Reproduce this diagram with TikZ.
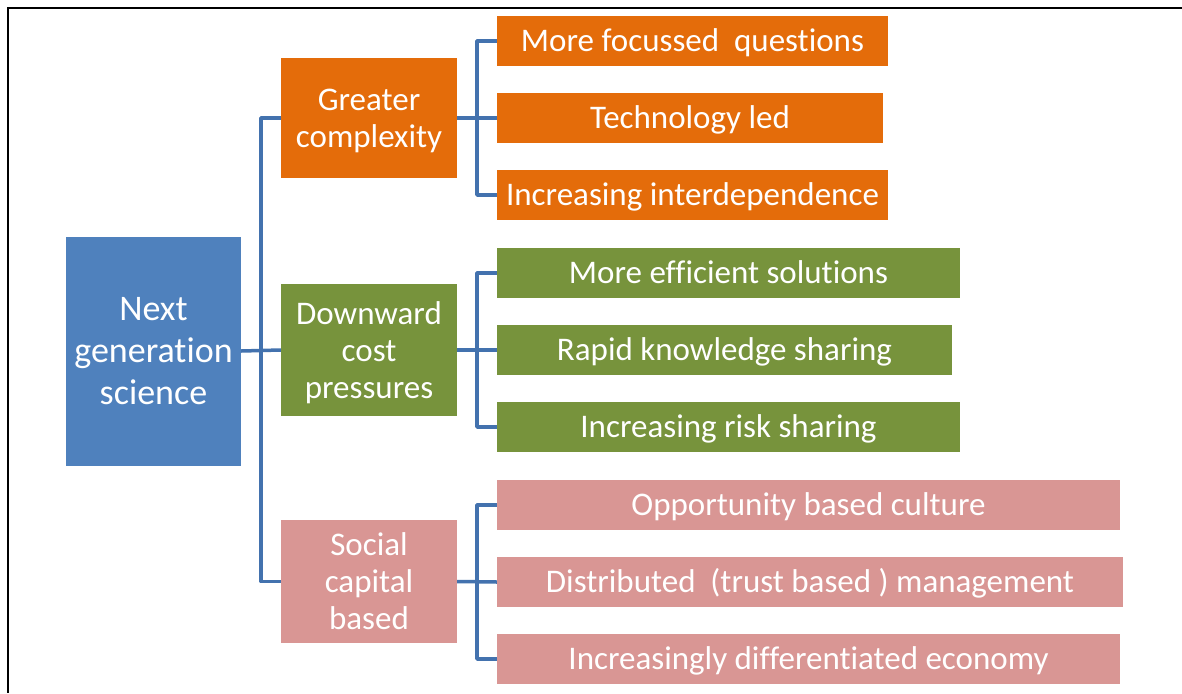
\documentclass[tikz,border=0pt]{standalone}
\usepackage{fontspec}
\setmainfont[Ligatures=NoCommon]{Carlito}
\definecolor{rootblue}{HTML}{4F81BD}
\definecolor{orng}{HTML}{E46C0A}
\definecolor{grn}{HTML}{77933C}
\definecolor{pnk}{HTML}{D99694}
\definecolor{lineblue}{HTML}{4372AE}
\newcommand{\mlines}[2]{\raisebox{#1}[0pt][0pt]{\def\arraystretch{1}\begin{tabular}{@{}c@{}}#2\end{tabular}}}
\begin{document}
\begin{tikzpicture}[x=1pt,y=-1pt,
  box/.style={rectangle, inner sep=0pt, text=white, align=center},
  rootbox/.style={box, fill=rootblue, font=\fontsize{36}{42}\selectfont},
  midbox/.style={box, font=\fontsize{33}{37}\selectfont, minimum width=176pt, minimum height=#1},
  leafbox/.style={box, font=\fontsize{33}{38}\selectfont, minimum height=50pt, minimum width=#1, text height=22pt, text depth=1pt},
  conn/.style={draw=lineblue, line width=3.5pt, line join=round}]
\useasboundingbox (0,0) rectangle (1182,693);
\fill[white] (0,0) rectangle (1182,693);
\draw[line width=2.5pt] (1182,8) -- (8,8) -- (8,693);

\node[rootbox, minimum width=175pt, minimum height=229pt] (root) at (153.5,351) {Next\\generation\\science};

\node[midbox=120pt, fill=orng] (g1) at (369,118) {\mlines{-10pt}{Greater\\complexity}};
\node[midbox=132pt, fill=grn] (g2) at (369,350) {\mlines{-10pt}{Downward\\cost\\pressures}};
\node[midbox=123pt, fill=pnk] (g3) at (369,581.5) {\mlines{-10pt}{Social\\capital\\based}};

\node[leafbox=391pt, fill=orng] (a1) at (692.5,41) {More focussed\ \ questions};
\node[leafbox=386pt, fill=orng] (a2) at (690,118) {Technology led};
\node[leafbox=391pt, fill=orng] (a3) at (692.5,195) {Increasing interdependence};

\node[leafbox=463pt, fill=grn] (b1) at (728.5,273) {More efficient solutions};
\node[leafbox=455pt, fill=grn] (b2) at (724.5,350) {Rapid knowledge sharing};
\node[leafbox=463pt, fill=grn] (b3) at (728.5,427) {Increasing risk sharing};

\node[leafbox=623pt, fill=pnk] (c1) at (808.5,505) {Opportunity based culture};
\node[leafbox=626pt, fill=pnk] (c2) at (810,582) {Distributed\ \ (trust based ) management};
\node[leafbox=623pt, fill=pnk] (c3) at (808.5,659) {Increasingly differentiated economy};

\coordinate (b0) at (261,350);
\coordinate (ba) at (477,118);
\coordinate (bb) at (477,350);
\coordinate (bc) at (477,582);

\draw[conn] (g1.west) -| (b0) |- (g3.west);
\draw[conn] (root.east) -- (g2.west);

\draw[conn] (a1.west) -| (ba) |- (a3.west);
\draw[conn] (g1.east) -- (a2.west);

\draw[conn] (b1.west) -| (bb) |- (b3.west);
\draw[conn] (g2.east) -- (b2.west);

\draw[conn] (c1.west) -| (bc) |- (c3.west);
\draw[conn] (g3.east) -- (c2.west);
\end{tikzpicture}
\end{document}
